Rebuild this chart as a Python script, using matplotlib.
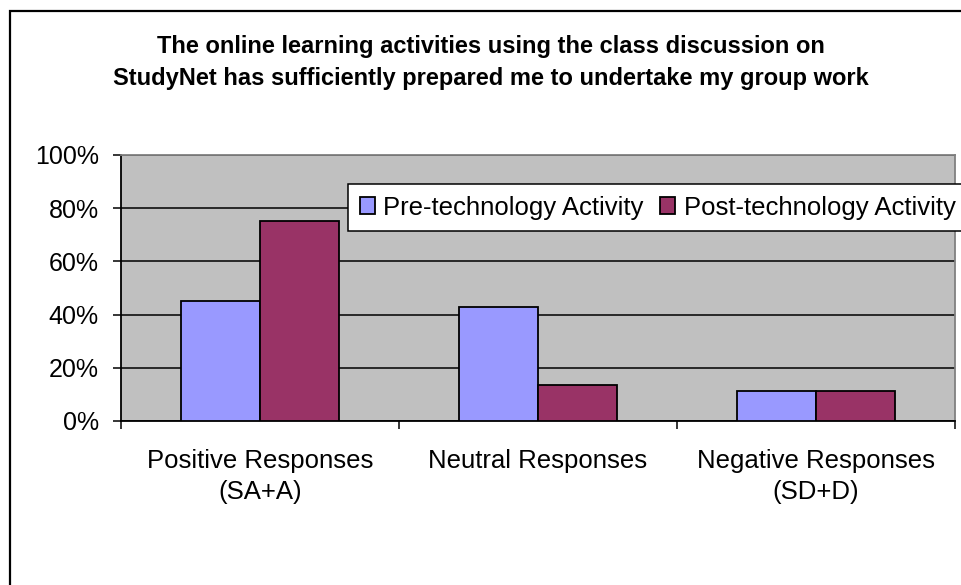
import matplotlib
matplotlib.use("Agg")
import matplotlib.pyplot as plt
import numpy as np
from matplotlib.patches import Rectangle
from matplotlib.ticker import PercentFormatter

plt.rcParams["font.family"] = ["Liberation Sans", "DejaVu Sans"]

# データ
categories = ["Positive Responses\n(SA+A)", "Neutral Responses", "Negative Responses\n(SD+D)"]
pre_values = [45.3, 43.0, 11.4]
post_values = [75.1, 13.5, 11.4]
series_names = ["Pre-technology Activity", "Post-technology Activity"]
yticks = [0, 20, 40, 60, 80, 100]

title = ("The online learning activities using the class discussion on\n"
         "StudyNet has sufficiently prepared me to undertake my group work")

fig = plt.figure(figsize=(9.61, 5.85), dpi=100)
ax = fig.add_axes([121 / 961, 1 - 421 / 585, (955 - 121) / 961, (421 - 155) / 585])

# 外枠
fig.patches.append(Rectangle((10 / 961, -0.1), 1.2, 1 - 11 / 585 + 0.1,
                             transform=fig.transFigure, fill=False,
                             edgecolor="black", linewidth=1.6))

ax.set_facecolor("#C0C0C0")
x = np.arange(len(categories))
w = 0.285
ax.bar(x - w / 2, pre_values, w, color="#9999FF", edgecolor="black",
       linewidth=1.3, label=series_names[0], zorder=3)
ax.bar(x + w / 2, post_values, w, color="#993366", edgecolor="black",
       linewidth=1.3, label=series_names[1], zorder=3)

ax.set_xlim(-0.5, 2.5)
ax.set_ylim(0, 100)
ax.set_yticks(yticks)
ax.yaxis.set_major_formatter(PercentFormatter(decimals=0))
ax.grid(axis="y", color="black", linewidth=1.1, zorder=1)
ax.tick_params(axis="y", length=6, width=1.1, labelsize=18, pad=10)

ax.set_xticks(x)
ax.set_xticklabels(categories, fontsize=18.5, linespacing=1.4)
ax.set_xticks([-0.5, 0.5, 1.5, 2.5], minor=True)
ax.tick_params(axis="x", which="major", length=0, pad=20)
ax.tick_params(axis="x", which="minor", length=6, width=1.1, direction="out")

for side in ["left", "bottom"]:
    ax.spines[side].set_color("black")
    ax.spines[side].set_linewidth(1.3)
for side in ["top", "right"]:
    ax.spines[side].set_color("#808080")
    ax.spines[side].set_linewidth(1.3)

fig.text(491 / 961, 1 - 35 / 585, title, ha="center", va="top",
         fontsize=17, fontweight="bold", linespacing=1.5)

leg = fig.legend(loc="upper left", bbox_to_anchor=(348 / 961, 1 - 184 / 585),
                 ncol=2, fontsize=18.5, frameon=True, fancybox=False,
                 handlelength=0.6, handleheight=0.6, handletextpad=0.33,
                 columnspacing=0.62, borderpad=0.45, borderaxespad=0)
leg.get_frame().set_edgecolor("black")
leg.get_frame().set_linewidth(1.1)
leg.get_frame().set_facecolor("white")
leg.get_frame().set_alpha(1)

fig.savefig("out.png", dpi=100)
